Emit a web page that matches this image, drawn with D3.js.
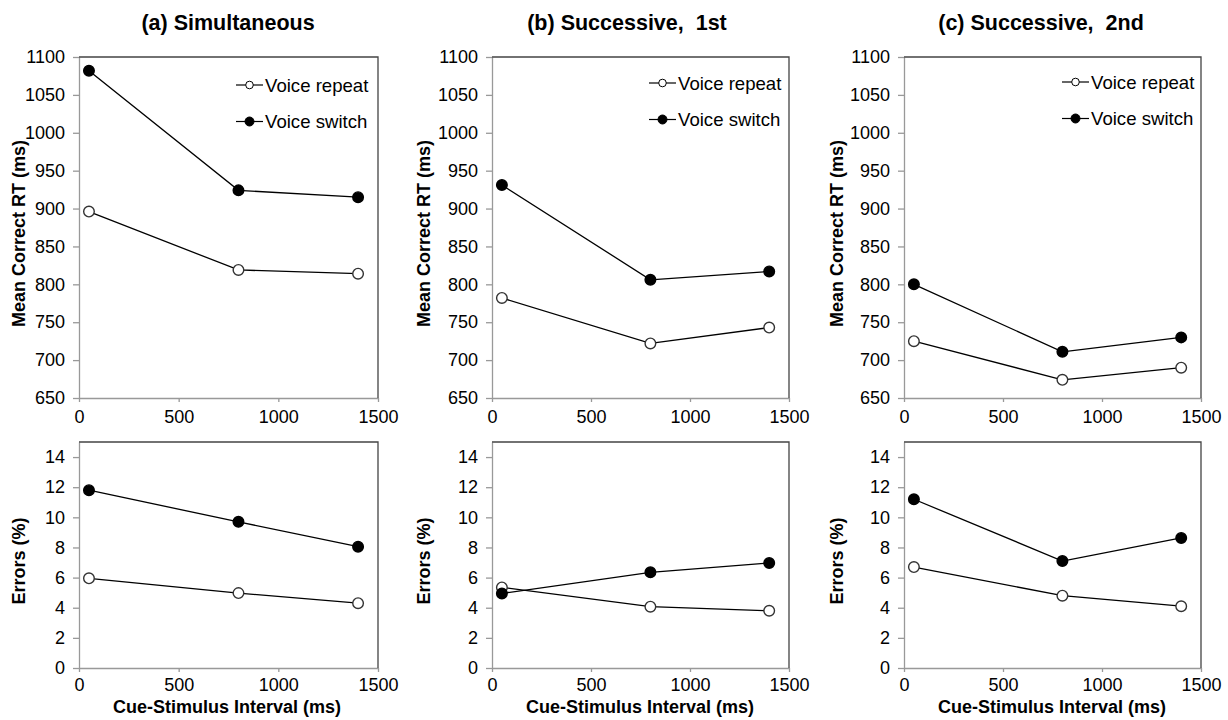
<!DOCTYPE html>
<html>
<head>
<meta charset="utf-8">
<script src="https://cdn.jsdelivr.net/npm/d3@7"></script>
<style>
  body { margin: 0; background: #fff; }
  text { font-family: "Liberation Sans", Arial, sans-serif; }
</style>
</head>
<body>
<script>
'use strict';

// cue-stimulus intervals (ms)
const csi = [50, 800, 1400];
const panelTitles = ["(a) Simultaneous", "(b) Successive,  1st", "(c) Successive,  2nd"];
const seriesNames = ["Voice repeat", "Voice switch"];

// mean correct RT (ms), one row per panel
const rtRepeat = [[896, 819, 814], [782, 722, 743], [725, 674, 690]];
const rtSwitch = [[1082, 924, 915], [931, 806, 817], [800, 711, 730]];

// errors (%), one row per panel
const errRepeat = [[5.95, 4.97, 4.3], [5.35, 4.07, 3.8], [6.7, 4.8, 4.1]];
const errSwitch = [[11.8, 9.7, 8.05], [4.95, 6.35, 6.97], [11.2, 7.1, 8.63]];

const xTicks = [0, 500, 1000, 1500];
const rtTicks = [650, 700, 750, 800, 850, 900, 950, 1000, 1050, 1100];
const errTicks = [0, 2, 4, 6, 8, 10, 12, 14];

// layout of the three columns
const cols = [
  { left: 79, right: 378, title: 228, ylab: 25, xlab: 227, legX: 236, legY: 85 },
  { left: 492, right: 789, title: 627, ylab: 430, xlab: 640, legX: 649, legY: 83 },
  { left: 904, right: 1201, title: 1041, ylab: 843, xlab: 1052, legX: 1062, legY: 82 }
];
const rtBox = { top: 57, bottom: 398 };
const errBox = { top: 442, bottom: 668 };

const svg = d3.select('body').append('svg')
  .attr('width', 1228)
  .attr('height', 720);

cols.forEach((c, i) => {
  // panel title
  svg.append('text')
    .attr('x', c.title)
    .attr('y', 30)
    .attr('text-anchor', 'middle')
    .style('font-size', '21.5px')
    .style('font-weight', 'bold')
    .style('white-space', 'pre')
    .text(panelTitles[i]);

  let x = d3.scaleLinear().domain([0, 1500]).range([c.left, c.right]);

  let yRt = d3.scaleLinear().domain([650, 1100]).range([rtBox.bottom, rtBox.top]);
  drawPanel(x, yRt, rtBox, rtTicks, [rtRepeat[i], rtSwitch[i]], 'Mean Correct RT (ms)', c.ylab, 8);

  let yErr = d3.scaleLinear().domain([0, 15]).range([errBox.bottom, errBox.top]);
  drawPanel(x, yErr, errBox, errTicks, [errRepeat[i], errSwitch[i]], 'Errors (%)', c.ylab, 6);

  // x axis title under the error plot
  svg.append('text')
    .attr('x', c.xlab)
    .attr('y', 713)
    .attr('text-anchor', 'middle')
    .style('font-size', '18px')
    .style('font-weight', 'bold')
    .text('Cue-Stimulus Interval (ms)');

  // legend
  let legend = svg.append('g');
  seriesNames.forEach((name, k) => {
    let ly = c.legY + k * 36.5;
    legend.append('line')
      .attr('x1', c.legX).attr('x2', c.legX + 27)
      .attr('y1', ly).attr('y2', ly)
      .attr('stroke', '#000').attr('stroke-width', 1.2);
    legend.append('circle')
      .attr('cx', c.legX + 13.5).attr('cy', ly)
      .attr('r', k === 0 ? 3.8 : 4.5)
      .attr('fill', k === 0 ? '#fff' : '#000')
      .attr('stroke', '#000').attr('stroke-width', 1);
    legend.append('text')
      .attr('x', c.legX + 29)
      .attr('y', ly)
      .attr('dy', '0.36em')
      .style('font-size', '18.6px')
      .text(name);
  });
});

// one framed plot with two series
function drawPanel(x, y, box, yTicks, series, ylabel, ylabX, xPad) {
  let xAxis = d3.axisBottom(x).tickValues(xTicks).tickFormat(d3.format('d'))
    .tickSize(4).tickPadding(xPad).tickSizeOuter(0);
  let gx = svg.append('g')
    .attr('transform', 'translate(0,' + box.bottom + ')')
    .call(xAxis);

  let yAxis = d3.axisLeft(y).tickValues(yTicks).tickFormat(d3.format('d'))
    .tickSize(6).tickPadding(8).tickSizeOuter(0);
  let gy = svg.append('g')
    .attr('transform', 'translate(' + x.range()[0] + ',0)')
    .call(yAxis);

  [gx, gy].forEach(g => {
    g.selectAll('path, line').attr('stroke', '#999').attr('stroke-width', 1.3);
    g.selectAll('text')
      .style('font-size', '18px')
      .style('font-family', '"Liberation Sans", Arial, sans-serif')
      .attr('fill', '#000');
  });

  // top and right edges of the frame
  svg.append('path')
    .attr('d', 'M' + x.range()[0] + ',' + box.top + 'H' + x.range()[1] + 'V' + box.bottom)
    .attr('fill', 'none')
    .attr('stroke', '#444')
    .attr('stroke-width', 1.3);

  let line = d3.line()
    .x((d, j) => x(csi[j]))
    .y(d => y(d));

  series.forEach((vals, k) => {
    svg.append('path')
      .datum(vals)
      .attr('d', line)
      .attr('fill', 'none')
      .attr('stroke', '#000')
      .attr('stroke-width', 1.3);
  });

  // markers on top of both lines
  series.forEach((vals, k) => {
    svg.selectAll(null)
      .data(vals)
      .enter()
      .append('circle')
      .attr('cx', (d, j) => x(csi[j]))
      .attr('cy', d => y(d))
      .attr('r', 5.3)
      .attr('fill', k === 0 ? '#fff' : '#000')
      .attr('stroke', k === 0 ? '#333' : '#000')
      .attr('stroke-width', 1.4);
  });

  // y axis title, centred on the box
  svg.append('text')
    .attr('transform', 'translate(' + ylabX + ',' + ((box.top + box.bottom) / 2 + 6) + ')rotate(-90)')
    .attr('text-anchor', 'middle')
    .style('font-size', '18px')
    .style('font-weight', 'bold')
    .text(ylabel);
}
</script>
</body>
</html>
